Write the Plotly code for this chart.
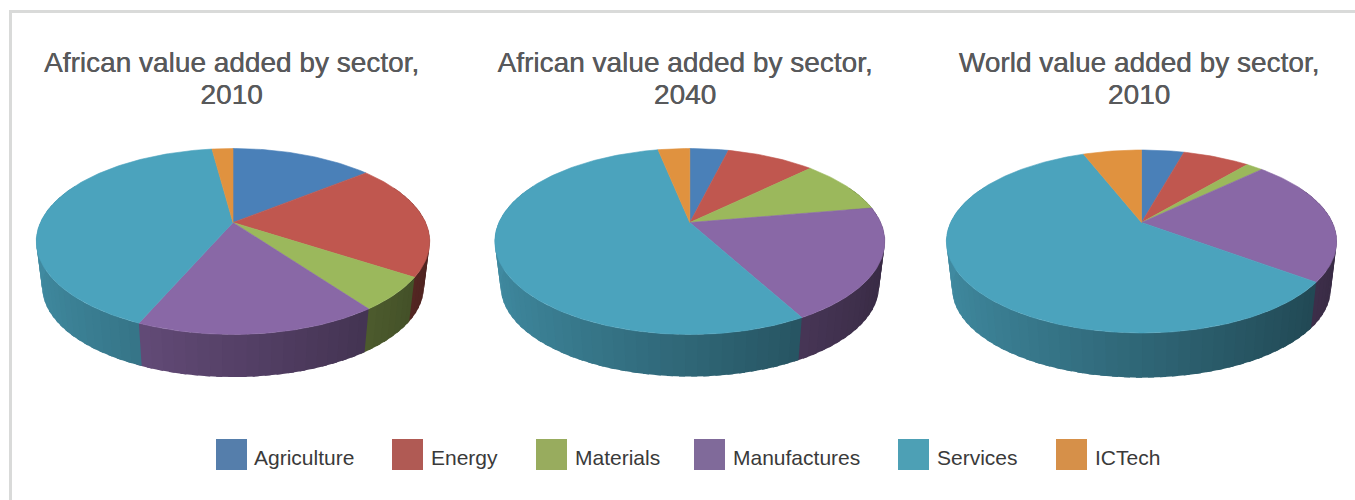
import numpy as np
import plotly.graph_objects as go

sectors = ["Agriculture", "Energy", "Materials", "Manufactures", "Services", "ICTech"]
africa_2010 = [14.2, 20.0, 5.8, 16.5, 41.4, 2.1]
africa_2040 = [3.9, 8.9, 9.5, 19.7, 54.8, 3.2]
world_2010 = [4.3, 6.8, 1.7, 22.4, 58.9, 5.9]
titles = [["African value added by sector,", "2010"],
          ["African value added by sector,", "2040"],
          ["World value added by sector,", "2010"]]

top_colors = [(74, 128, 184), (192, 87, 79), (155, 184, 92), (137, 104, 166), (75, 163, 189), (224, 146, 63)]
legend_colors = ["#557eab", "#b05a54", "#98ac5e", "#806a9a", "#4da0b5", "#d69049"]

# layout of the three pies, in picture pixels
pies = [dict(values=africa_2010, cx=233.0, cy=222.5, tx=231.5, a=192.6, b=89.1, k=0.2043, drop=46.0),
        dict(values=africa_2040, cx=689.8, cy=222.5, tx=685.0, a=190.9, b=89.1, k=0.2043, drop=45.5),
        dict(values=world_2010, cx=1141.5, cy=222.5, tx=1139.0, a=190.9, b=87.55, k=0.2076, drop=48.0)]
WALL_SCALE = 0.97


def project(theta_deg, p, scale=1.0, drop=0.0):
    t = np.radians(np.asarray(theta_deg, dtype=float))
    X, Y = np.sin(t), np.cos(t)
    w = 1 + p["k"] * Y
    return p["cx"] + scale * p["a"] * X / w, p["cy"] + drop - scale * p["b"] * Y / w


def rgb(c, f=1.0):
    return "rgb(%d,%d,%d)" % tuple(int(round(v * f)) for v in c)


def poly(fig, x, y, color, width=0.6):
    fig.add_trace(go.Scatter(x=list(x), y=list(y), mode="lines", fill="toself", fillcolor=color,
                             line=dict(color=color, width=width), hoverinfo="skip", showlegend=False))


fig = go.Figure()

for n_pie, p in enumerate(pies):
    vals = np.array(p["values"], dtype=float)
    edges = np.concatenate([[0], np.cumsum(vals) / vals.sum() * 360])
    cx, cy = p["cx"], p["cy"]
    # side wall, darkening from left to right; each strip runs under the next one
    for i, c in enumerate(top_colors):
        lo, hi = max(edges[i], 65), min(edges[i + 1], 295)
        if hi <= lo:
            continue
        n = max(1, int(np.ceil((hi - lo) / 3)))
        th = np.linspace(lo, hi, n + 1)
        for a0, a1 in zip(th[:-1], th[1:]):
            seg = [a0, a1 + 1.5]
            x1, y1 = project(seg, p)
            x2, y2 = project(seg[::-1], p, WALL_SCALE, p["drop"])
            s = (1 - np.sin(np.radians((a0 + a1) / 2))) / 2  # 0 on the right, 1 on the left
            poly(fig, np.r_[x1, x2], np.r_[y1, y2], rgb(c, 0.40 + 0.45 * s), width=0)
    # top face
    for i, c in enumerate(top_colors):
        th = np.linspace(edges[i], edges[i + 1], max(2, int(edges[i + 1] - edges[i]) + 2))
        x, y = project(th, p)
        poly(fig, np.r_[cx, x, cx], np.r_[cy, y, cy], rgb(c))
    # title, two lines
    fig.add_trace(go.Scatter(x=[p["tx"]] * 2, y=[64.5, 96.5], text=titles[n_pie], mode="text",
                             textposition="middle center", hoverinfo="skip", showlegend=False,
                             textfont=dict(family="Liberation Sans", size=28, color="#58595b",
                                           shadow="0.4px 0 0 #58595b")))

# legend row
swatch_x = [231.5, 407.5, 551.5, 709.5, 913.5, 1071.5]
label_x = [254, 431, 575, 733, 937, 1095]
fig.add_trace(go.Scatter(x=swatch_x, y=[454.5] * 6, mode="markers", hoverinfo="skip", showlegend=False,
                         marker=dict(symbol="square", size=31, color=legend_colors, line=dict(width=0))))
fig.add_trace(go.Scatter(x=label_x, y=[460] * 6, mode="text", text=sectors, textposition="middle right",
                         hoverinfo="skip", showlegend=False,
                         textfont=dict(family="Liberation Sans", size=21, color="#3a3a3a")))

fig.update_layout(
    width=1355, height=500, margin=dict(l=0, r=0, t=0, b=0),
    paper_bgcolor="white", plot_bgcolor="white", showlegend=False,
    xaxis=dict(range=[0, 1355], visible=False, fixedrange=True),
    yaxis=dict(range=[500, 0], visible=False, fixedrange=True),
    shapes=[dict(type="line", xref="x", yref="y", x0=10.5, x1=1355, y0=11.5, y1=11.5,
                 line=dict(color="#d9dad9", width=3)),
            dict(type="line", xref="x", yref="y", x0=10.5, x1=10.5, y0=10, y1=500,
                 line=dict(color="#d9dad9", width=3))],
)
fig.write_html("out.html", config={"displayModeBar": False},
               post_script="document.body.style.margin='0';document.documentElement.style.overflow='hidden';")
